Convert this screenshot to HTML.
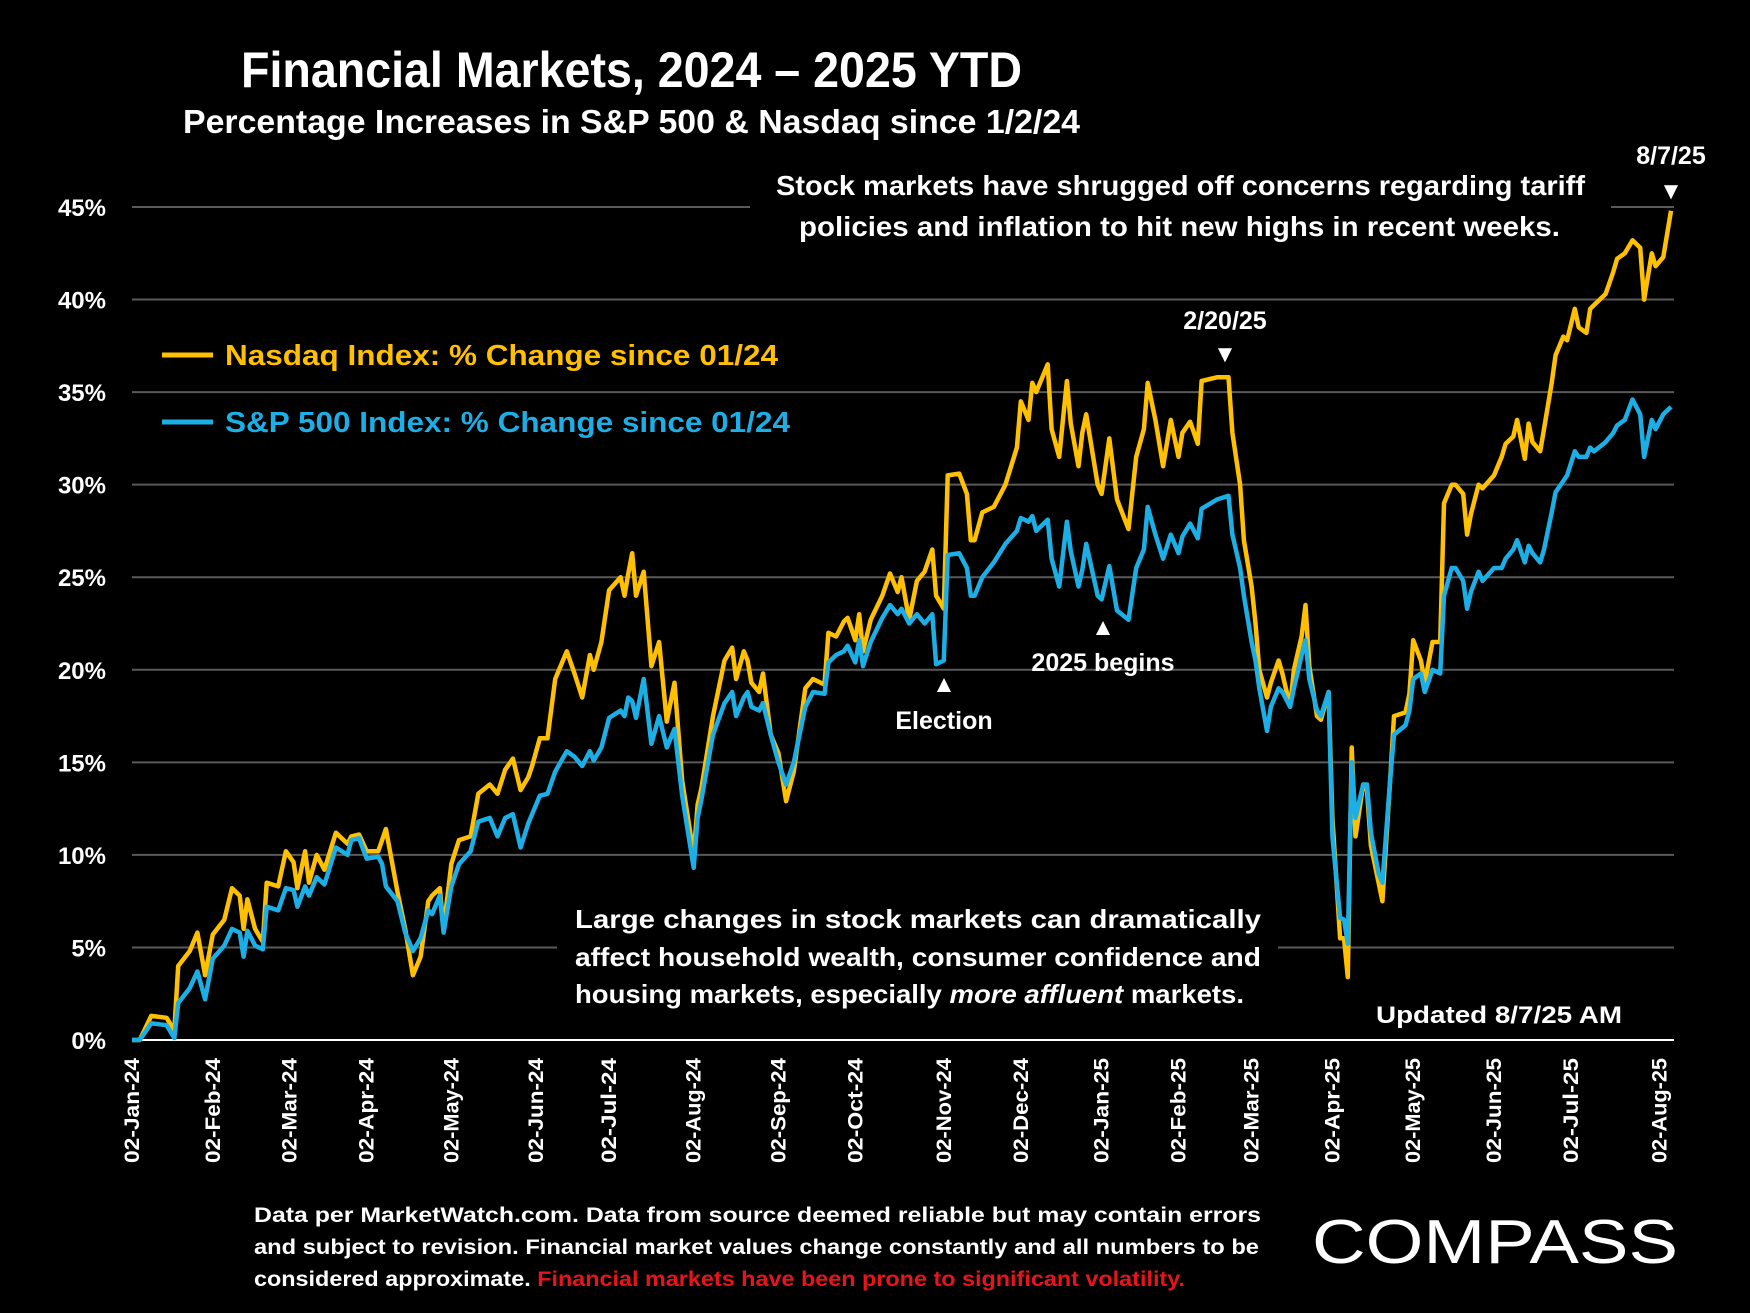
<!DOCTYPE html>
<html><head><meta charset="utf-8"><style>
html,body{margin:0;padding:0;background:#000;}
svg{display:block;font-family:"Liberation Sans",sans-serif;font-weight:bold;}
</style></head><body>
<svg id="chart" width="1750" height="1313" viewBox="0 0 1750 1313">
<rect width="1750" height="1313" fill="#000"/>
<text x="241" y="87" font-size="50" fill="#fff" textLength="781" lengthAdjust="spacingAndGlyphs">Financial Markets, 2024 – 2025 YTD</text>
<text x="183" y="133" font-size="33" fill="#fff" textLength="897" lengthAdjust="spacingAndGlyphs">Percentage Increases in S&amp;P 500 &amp; Nasdaq since 1/2/24</text>
<g id="grid"></g>
<g id="yticks"></g>
<g id="xticks"></g>
<g id="series"></g>
<g>
<line x1="162" y1="355" x2="213" y2="355" stroke="#FFC000" stroke-width="5"/>
<text x="225" y="365" font-size="29" fill="#FFC000" textLength="553" lengthAdjust="spacingAndGlyphs">Nasdaq Index: % Change since 01/24</text>
<line x1="162" y1="422" x2="213" y2="422" stroke="#1CAFE6" stroke-width="5"/>
<text x="225" y="432" font-size="29" fill="#1CAFE6" textLength="565" lengthAdjust="spacingAndGlyphs">S&amp;P 500 Index: % Change since 01/24</text>
</g>
<g fill="#fff">
<text x="776" y="195" font-size="28" textLength="809" lengthAdjust="spacingAndGlyphs">Stock markets have shrugged off concerns regarding tariff</text>
<text x="799" y="236" font-size="28" textLength="761" lengthAdjust="spacingAndGlyphs">policies and inflation to hit new highs in recent weeks.</text>
<text x="1671" y="164" font-size="25" text-anchor="middle">8/7/25</text>
<text x="1671" y="199" font-size="24" text-anchor="middle">▼</text>
<text x="1225" y="329" font-size="25" text-anchor="middle">2/20/25</text>
<text x="1225" y="362" font-size="24" text-anchor="middle">▼</text>
<text x="944" y="692" font-size="24" text-anchor="middle">▲</text>
<text x="944" y="729" font-size="25" text-anchor="middle">Election</text>
<text x="1103" y="635" font-size="24" text-anchor="middle">▲</text>
<text x="1103" y="671" font-size="25" text-anchor="middle">2025 begins</text>
<text x="575" y="928" font-size="26" textLength="686" lengthAdjust="spacingAndGlyphs">Large changes in stock markets can dramatically</text>
<text x="575" y="966" font-size="26" textLength="686" lengthAdjust="spacingAndGlyphs">affect household wealth, consumer confidence and</text>
<text x="575" y="1003" font-size="26" textLength="669" lengthAdjust="spacingAndGlyphs">housing markets, especially <tspan font-style="italic">more affluent</tspan> markets.</text>
<text x="1376" y="1023" font-size="24" textLength="246" lengthAdjust="spacingAndGlyphs">Updated 8/7/25 AM</text>
</g>
<g font-size="21">
<text x="254" y="1222" fill="#fff" textLength="1007" lengthAdjust="spacingAndGlyphs">Data per MarketWatch.com. Data from source deemed reliable but may contain errors</text>
<text x="254" y="1254" fill="#fff" textLength="1005" lengthAdjust="spacingAndGlyphs">and subject to revision. Financial market values change constantly and all numbers to be</text>
<text x="254" y="1286" fill="#fff" textLength="931" lengthAdjust="spacingAndGlyphs">considered approximate. <tspan fill="#E8141B">Financial markets have been prone to significant volatility.</tspan></text>
</g>
<text x="1312" y="1263" font-size="62" font-weight="normal" fill="#fff" textLength="366" lengthAdjust="spacingAndGlyphs">COMPASS</text>
</svg>
<script>
const yTicks = [0,5,10,15,20,25,30,35,40,45];
const tickLabels = ["02-Jan-24","02-Feb-24","02-Mar-24","02-Apr-24","02-May-24","02-Jun-24","02-Jul-24","02-Aug-24","02-Sep-24","02-Oct-24","02-Nov-24","02-Dec-24","02-Jan-25","02-Feb-25","02-Mar-25","02-Apr-25","02-May-25","02-Jun-25","02-Jul-25","02-Aug-25"];
const tickDays = [0,21,41,61,83,105,124,146,168,188,211,231,252,272,291,312,333,354,374,397];
const days = [0,2,5,9,11,12,15,17,19,21,24,26,28,29,30,32,34,35,38,40,42,43,45,46,48,50,53,56,57,59,61,64,65,66,69,71,73,75,77,78,80,81,83,85,88,90,93,95,97,99,101,103,104,106,108,110,113,115,117,119,120,122,124,127,128,129,130,131,133,135,137,139,141,143,146,147,148,151,154,156,157,159,160,161,163,164,166,168,170,172,175,177,180,181,183,185,186,188,189,190,192,195,197,199,200,202,204,206,208,209,211,212,215,217,218,219,221,224,227,230,231,233,234,235,238,239,241,243,244,246,247,248,251,252,254,256,259,261,263,264,266,268,270,272,273,275,277,278,282,285,286,288,289,291,292,293,295,296,298,299,301,302,304,305,306,308,309,311,312,314,315,316,317,318,320,321,322,324,325,327,328,331,332,333,335,336,338,340,341,343,344,346,347,348,350,351,354,356,357,359,360,362,363,364,366,367,369,370,372,373,375,376,378,379,380,383,385,386,388,390,392,393,395,396,398,400];
const nasdaq = [0,0,1.3,1.2,0.5,4,4.8,5.8,3.5,5.7,6.5,8.2,7.8,6,7.6,6,5.3,8.5,8.3,10.2,9.6,8.2,10.2,8.5,10,9.2,11.2,10.6,11,11.1,10.2,10.2,10.8,11.4,8,6,3.5,4.5,7.5,7.8,8.2,6,9.5,10.8,11,13.3,13.8,13.3,14.6,15.2,13.5,14.2,14.8,16.3,16.3,19.5,21,19.8,18.5,20.8,20,21.5,24.3,25,24,25.2,26.3,24,25.3,20.2,21.5,17.2,19.3,14,10,12.7,13.6,17.5,20.5,21.2,19.5,21,20.5,19.3,18.8,19.8,16.5,15.5,12.9,14.5,19,19.5,19.2,22,21.8,22.6,22.8,21.6,23,21,22.7,24,25.2,24.2,25,22.7,24.8,25.3,26.5,24,23.3,30.5,30.6,29.5,27,27,28.5,28.8,30,32,34.5,33.5,35.5,35,36.5,33,31.5,35.6,33.3,31,32.8,33.8,30,29.5,32.5,29.2,27.6,31.5,33,35.5,33.5,31,33.5,31.5,32.8,33.4,32.2,35.6,35.8,35.8,32.8,30,27,24.5,22.5,20,18.5,19.3,20.5,19.8,18,20,21.8,23.5,20.2,17.5,17.3,18.8,12,5.5,5.5,3.4,15.8,11,13.8,13.5,10.5,8.5,7.5,14,17.5,17.7,18.7,21.6,20.5,19.3,21.5,21.5,29,30,30,29.5,27.3,28.4,30,29.8,30.5,31.5,32.2,32.6,33.5,31.4,33.3,32.3,31.8,33,35.5,37,38,37.8,39.5,38.5,38.2,39.5,39.7,40.3,41.5,42.2,42.5,43.2,42.8,40,42.5,41.8,42.3,44.8];
const sp500 = [0,0,0.9,0.8,0.1,2,2.8,3.7,2.2,4.4,5.1,6,5.8,4.5,5.9,5.1,4.9,7.2,7,8.2,8.1,7.2,8.3,7.8,8.8,8.4,10.4,10,10.8,10.9,9.8,9.9,9.5,8.3,7.5,5.8,4.8,5.5,7,6.8,7.8,5.8,8.3,9.5,10.2,11.8,12,11,12,12.2,10.4,11.7,12.2,13.2,13.3,14.5,15.6,15.3,14.8,15.6,15.1,15.8,17.4,17.8,17.5,18.5,18.3,17.4,19.5,16,17.5,15.8,16.8,13.2,9.3,12,13,16.5,18.2,18.8,17.5,18.5,18.8,18,17.8,18.2,16.5,15,13.8,15,18,18.8,18.7,20.4,20.8,21,21.3,20.4,21.6,20.2,21.5,22.8,23.5,23,23.3,22.5,23,22.5,23,20.3,20.5,26.2,26.3,25.5,24,24,25,25.8,26.8,27.5,28.2,28,28.3,27.5,28.1,26,24.5,28,26.4,24.5,25.4,26.8,24,23.8,25.6,23.2,22.7,25.5,26.5,28.8,27.3,26,27.3,26.3,27.2,27.9,27.1,28.7,29.2,29.4,27.3,25.5,24,21.5,20.5,19,16.7,18,19,18.8,18,19,20.8,21.6,19.5,17.8,17.5,18.8,11,6.6,6.5,5.2,15,12,13.8,13.8,11.2,9,8.5,14,16.5,17,17.8,19.5,19.8,18.8,20,19.8,24,25.5,25.5,24.8,23.3,24.2,25.3,24.8,25.5,25.5,26,26.5,27,25.8,26.7,26.3,25.8,26.5,28.5,29.6,30.2,30.5,31.8,31.5,31.5,32,31.8,32.3,32.8,33.2,33.5,34.6,33.8,31.5,33.5,33,33.8,34.2];

const NS = "http://www.w3.org/2000/svg";
const X0 = 132, X1 = 1671, Y0 = 1040, Y45 = 207, maxDay = 400;
function xScale(d){ return X0 + (X1 - X0) * d / maxDay; }
function yScale(v){ return Y0 - (Y0 - Y45) * v / 45; }
function mk(tag, attrs){ const e = document.createElementNS(NS, tag); for (const k in attrs) e.setAttribute(k, attrs[k]); return e; }

const grid = document.getElementById('grid');
const yt = document.getElementById('yticks');
yTicks.forEach(v => {
  const y = yScale(v);
  if (v > 0) {
    const segs = v === 45 ? [[132,750],[1611,1674]] : v === 5 ? [[132,557],[1278,1674]] : [[132,1674]];
    segs.forEach(s => {
      const l = mk('line', {x1:s[0], x2:s[1], y1:y, y2:y, stroke:'#5a5a5a', 'stroke-width':2});
      
      
      grid.appendChild(l);
    });
  }
  const t = mk('text', {x:106, y:y+9, 'font-size':24, fill:'#fff', 'text-anchor':'end'});
  t.textContent = v + '%';
  
  
  yt.appendChild(t);
});
const axis = mk('line', {x1:132, x2:1674, y1:Y0, y2:Y0, stroke:'#fff', 'stroke-width':2});


grid.appendChild(axis);

const xt = document.getElementById('xticks');
tickLabels.forEach((lab, i) => {
  const x = xScale(tickDays[i]) + 7;
  const t = mk('text', {x:x, y:1058, 'font-size':21, fill:'#fff', 'text-anchor':'end', transform:'rotate(-90 ' + x + ' 1058)', textLength:105, lengthAdjust:'spacingAndGlyphs'});
  t.textContent = lab;
  
  
  xt.appendChild(t);
});

const ser = document.getElementById('series');
function drawLine(vals, color, name){
  const pts = vals.map((v, i) => xScale(days[i]).toFixed(1) + ',' + yScale(v).toFixed(1)).join(' ');
  const p = mk('polyline', {points:pts, fill:'none', stroke:color, 'stroke-width':4.5, 'stroke-linejoin':'round'});
  
  
  ser.appendChild(p);
}
drawLine(nasdaq, '#FFC000', 'nasdaq-line');
drawLine(sp500, '#1CAFE6', 'sp500-line');
</script>
</body></html>
